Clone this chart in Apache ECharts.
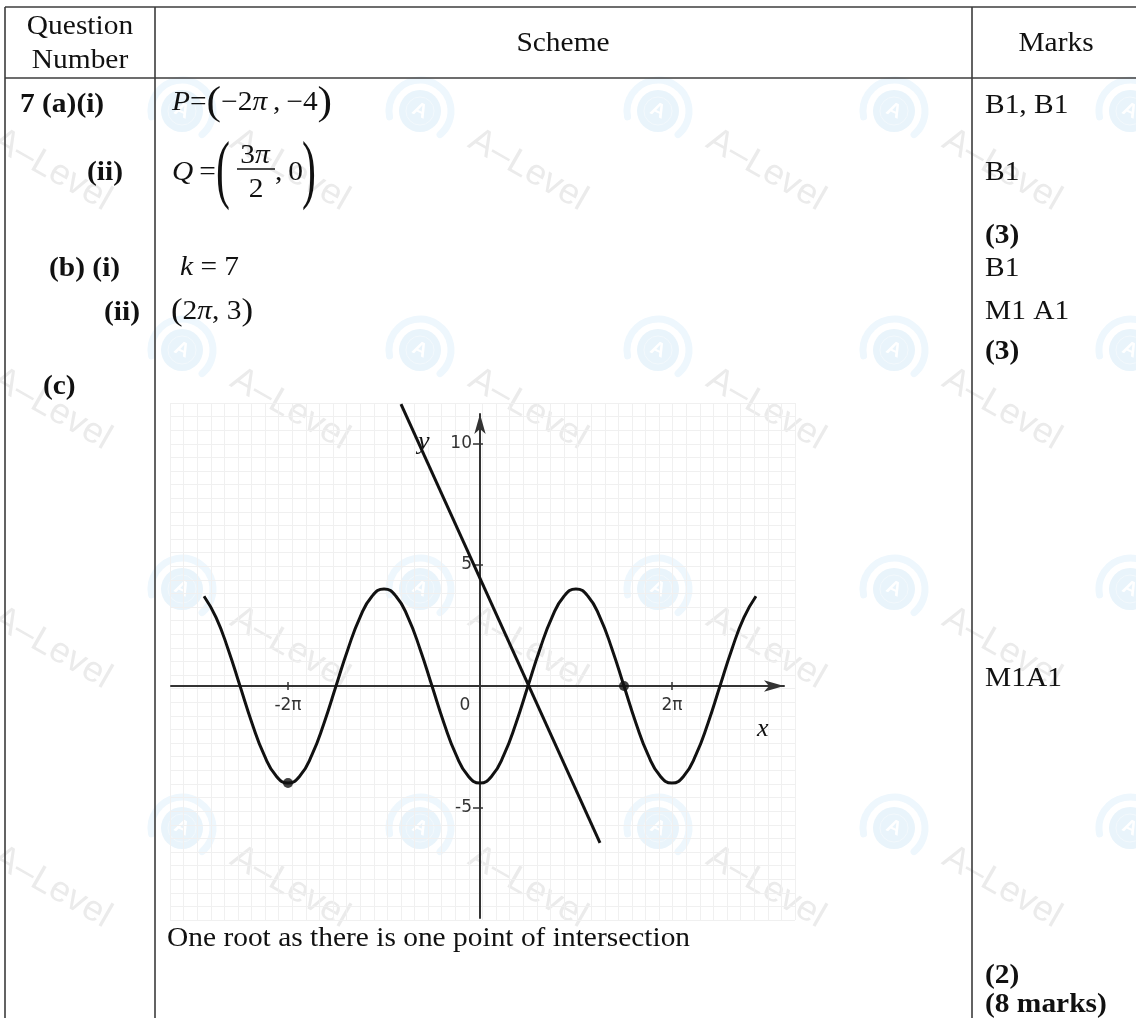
<!DOCTYPE html>
<html>
<head>
<meta charset="utf-8">
<title>Question 7 – mark scheme</title>
<script src="https://cdn.jsdelivr.net/npm/echarts@6/dist/echarts.min.js"></script>
<style>
  html, body { margin: 0; padding: 0; background: #ffffff; }
  #chart { width: 1136px; height: 1018px; }
</style>
</head>
<body>
<div id="chart"></div>
<script>
// ---- Graph data (x measured in multiples of π) ----
// y = -4cos x, read every π/8 from -2.875π to 2.875π
const curveX = [-2.875, -2.75, -2.625, -2.5, -2.375, -2.25, -2.125, -2,
  -1.875, -1.75, -1.625, -1.5, -1.375, -1.25, -1.125, -1,
  -0.875, -0.75, -0.625, -0.5, -0.375, -0.25, -0.125, 0,
  0.125, 0.25, 0.375, 0.5, 0.625, 0.75, 0.875, 1,
  1.125, 1.25, 1.375, 1.5, 1.625, 1.75, 1.875, 2,
  2.125, 2.25, 2.375, 2.5, 2.625, 2.75, 2.875];
const curveY = [3.70, 2.83, 1.53, 0, -1.53, -2.83, -3.70, -4,
  -3.70, -2.83, -1.53, 0, 1.53, 2.83, 3.70, 4,
  3.70, 2.83, 1.53, 0, -1.53, -2.83, -3.70, -4,
  -3.70, -2.83, -1.53, 0, 1.53, 2.83, 3.70, 4,
  3.70, 2.83, 1.53, 0, -1.53, -2.83, -3.70, -4,
  -3.70, -2.83, -1.53, 0, 1.53, 2.83, 3.70];

// straight line drawn across the curve (end points)
const lineX = [-0.823, 1.25];
const lineY = [11.62, -6.46];

// marked points: P = (-2π, -4), Q = (3π/2, 0)
const pointX = [-2, 1.5];
const pointY = [-4, 0];

// axis ticks and labels
const xTickValues = [-2, 2];
const xLabelValues = [-2, 0, 2];
const yTickValues = [-5, 5, 10];

// axis extents
const X_MIN = -3.219, X_MAX = 3.167;
const Y_MIN = -9.56, Y_MAX = 11.21;

// plotting box of the graph
const GRID = { left: 171, top: 414, width: 613, height: 504 };
// shift each axis from the box edge onto the other axis' zero
const X_AXIS_OFFSET = -(0 - Y_MIN) / (Y_MAX - Y_MIN) * GRID.height;
const Y_AXIS_OFFSET = -(0 - X_MIN) / (X_MAX - X_MIN) * GRID.width;

// ---- Fonts & helpers ----
const serif = '"Liberation Serif", "Times New Roman", serif';
const sans = '"Liberation Sans", Arial, sans-serif';
const tickFont = '"DejaVu Sans", Verdana, sans-serif';
const FS = 27;
const SX = 1.09;

const richMath = {
  i: { fontFamily: serif, fontSize: FS, fontStyle: 'italic', color: '#111' },
  n: { fontFamily: serif, fontSize: FS, color: '#111' },
  p: { fontFamily: serif, fontSize: 40, color: '#111' },
  q: { fontFamily: serif, fontSize: 32, color: '#111' }
};

function txt(x, y, text, o) {
  o = o || {};
  return {
    type: 'text', x: x, y: y, scaleX: o.sx || SX, z: 20,
    style: {
      text: text,
      fill: o.fill || '#111',
      fontFamily: o.family || serif,
      fontSize: o.size || FS,
      fontWeight: o.weight || 'normal',
      fontStyle: o.fstyle || 'normal',
      textAlign: o.align || 'left', align: o.align || 'left',
      textVerticalAlign: 'middle', verticalAlign: 'middle',
      rich: o.rich
    }
  };
}
function hline(x1, x2, y, w, c) {
  return { type: 'line', z: 19, shape: { x1: x1, y1: y, x2: x2, y2: y },
    style: { stroke: c || '#3c3c3c', lineWidth: w || 1.6 } };
}
function vline(x, y1, y2, w, c) {
  return { type: 'line', z: 19, shape: { x1: x, y1: y1, x2: x, y2: y2 },
    style: { stroke: c || '#3c3c3c', lineWidth: w || 1.6 } };
}

// ---- Background "A-Level" logos ----
const wmCols = [-56, 182, 420, 658, 894, 1130];
const wmRows = [111, 350, 589, 828];
const watermarks = [];
wmRows.forEach(function (cy) {
  wmCols.forEach(function (cx) {
    watermarks.push({
      type: 'group', x: cx, y: cy,
      children: [
        { type: 'arc', z: -2, shape: { cx: 0, cy: 0, r: 31, startAngle: 2.95, endAngle: 7.15, clockwise: true },
          style: { stroke: '#eef7fd', lineWidth: 7, fill: null, lineCap: 'round' } },
        { type: 'circle', z: -2, shape: { cx: 0, cy: 0, r: 21 }, style: { fill: '#e9f4fb' } },
        { type: 'circle', z: -2, shape: { cx: 0, cy: 0, r: 14 }, style: { fill: null, stroke: '#f3f9fd', lineWidth: 1 } },
        { type: 'text', z: -1, x: 0, y: 0, rotation: -0.45,
          style: { text: 'A', fill: '#ffffff', fontFamily: sans, fontSize: 20, fontWeight: 'bold',
            textAlign: 'center', align: 'center', textVerticalAlign: 'middle', verticalAlign: 'middle' } },
        { type: 'text', z: -1, x: 108, y: 59, rotation: -0.52,
          style: { text: 'A\u2013Level', fill: '#ebebeb', fontFamily: sans, fontSize: 36,
            textAlign: 'center', align: 'center', textVerticalAlign: 'middle', verticalAlign: 'middle' } }
      ]
    });
  });
});

// ---- Table frame ----
const frame = [
  hline(5, 1136, 7),
  hline(5, 1136, 78),
  vline(5, 7, 1018),
  vline(155, 7, 1018),
  vline(972, 7, 1018)
];

// ---- Table text ----
const B = { weight: 'bold' };
const texts = [
  txt(80, 27, 'Question', { align: 'center' }),
  txt(80, 61, 'Number', { align: 'center' }),
  txt(563, 44, 'Scheme', { align: 'center' }),
  txt(1056, 44, 'Marks', { align: 'center' }),

  txt(20, 105, '7 (a)(i)', B),
  txt(123, 173, '(ii)', { weight: 'bold', align: 'right' }),
  txt(49, 269, '(b) (i)', B),
  txt(140, 313, '(ii)', { weight: 'bold', align: 'right' }),
  txt(43, 387, '(c)', B),

  // P = (−2π, −4)
  txt(172, 103, '{i|P}{n|=}{p|(}{n|\u22122}{i|\u03c0}{n|\u2009,\u2009\u22124}{p|)}', { rich: richMath }),
  // Q = (3π/2, 0)
  txt(172, 173, '{i|Q}{n|\u2009=}', { rich: richMath }),
  txt(216, 174, '(', { size: 76, sx: 0.55 }),
  txt(255, 156, '{n|3}{i|\u03c0}', { rich: richMath, align: 'center' }),
  hline(237, 275, 169, 1.5, '#111'),
  txt(256, 190, '2', { align: 'center' }),
  txt(275, 173, ',\u20090'),
  txt(302, 174, ')', { size: 76, sx: 0.55 }),
  // k = 7
  txt(180, 268, '{i|k}{n| = 7}', { rich: richMath }),
  // (2π, 3)
  txt(171, 312, '{q|(}{n|2}{i|\u03c0}{n|, 3}{q|)}', { rich: richMath }),

  txt(167, 939, 'One root as there is one point of intersection'),

  // marks column
  txt(985, 106, 'B1, B1'),
  txt(985, 173, 'B1'),
  txt(985, 236, '(3)', B),
  txt(985, 269, 'B1'),
  txt(985, 312, 'M1 A1'),
  txt(985, 352, '(3)', B),
  txt(985, 679, 'M1A1'),
  txt(985, 976, '(2)', B),
  txt(985, 1005, '(8 marks)', B),

  // axis letters
  txt(418, 442, 'y', { fstyle: 'italic', size: 26, sx: 1 }),
  txt(757, 729, 'x', { fstyle: 'italic', size: 26, sx: 1 })
];

// ---- Chart ----
const chart = echarts.init(document.getElementById('chart'), null, { renderer: 'canvas' });

const axisColor = '#333333';
const hidden = { show: false };

const option = {
  animation: false,
  backgroundColor: '#ffffff',
  grid: [
    GRID,
    { left: 170, top: 403, width: 625, height: 517 }
  ],
  xAxis: [
    {
      type: 'value', gridIndex: 0, position: 'bottom', offset: X_AXIS_OFFSET,
      min: X_MIN, max: X_MAX,
      axisLine: { onZero: false, lineStyle: { color: axisColor, width: 2 },
        symbol: ['none', 'arrow'], symbolSize: [8.5, 20] },
      axisTick: { show: true, customValues: xTickValues, length: 4,
        lineStyle: { color: axisColor, width: 1.5 } },
      axisLabel: {
        customValues: xLabelValues, margin: 11,
        color: axisColor, fontFamily: tickFont, fontSize: 17,
        formatter: function (v) {
          if (v === 0) return '{z|0}';
          return (v < 0 ? '-' : '') + Math.abs(v) + '\u03c0';
        },
        rich: { z: { padding: [0, 30, 0, 0], color: axisColor, fontFamily: tickFont, fontSize: 17 } }
      },
      splitLine: hidden
    },
    {
      type: 'value', gridIndex: 0, position: 'bottom', offset: X_AXIS_OFFSET,
      min: X_MIN, max: X_MAX,
      axisLine: { show: false, onZero: false },
      axisTick: { show: true, inside: true, customValues: xTickValues, length: 4,
        lineStyle: { color: axisColor, width: 1.5 } },
      axisLabel: hidden, splitLine: hidden
    },
    {
      type: 'value', gridIndex: 1, min: 0, max: 46, interval: 1,
      axisLine: hidden, axisTick: hidden, axisLabel: hidden,
      splitLine: { show: true, lineStyle: { color: '#f0f0f0', width: 1 } }
    }
  ],
  yAxis: [
    {
      type: 'value', gridIndex: 0, position: 'left', offset: Y_AXIS_OFFSET,
      min: Y_MIN, max: Y_MAX,
      axisLine: { onZero: false, lineStyle: { color: axisColor, width: 2 },
        symbol: ['none', 'arrow'], symbolSize: [8.5, 20] },
      axisTick: { show: true, customValues: yTickValues, length: 7,
        lineStyle: { color: axisColor, width: 1.5 } },
      axisLabel: { customValues: yTickValues, margin: 8, color: axisColor,
        fontFamily: tickFont, fontSize: 17 },
      splitLine: hidden
    },
    {
      type: 'value', gridIndex: 0, position: 'left', offset: Y_AXIS_OFFSET,
      min: Y_MIN, max: Y_MAX,
      axisLine: { show: false, onZero: false },
      axisTick: { show: true, inside: true, customValues: yTickValues, length: 3,
        lineStyle: { color: axisColor, width: 1.5 } },
      axisLabel: hidden, splitLine: hidden
    },
    {
      type: 'value', gridIndex: 1, min: 0, max: 38, interval: 1,
      axisLine: hidden, axisTick: hidden, axisLabel: hidden,
      splitLine: { show: true, lineStyle: { color: '#f0f0f0', width: 1 } }
    }
  ],
  series: [
    {
      name: 'y = -4cos x', type: 'line', xAxisIndex: 0, yAxisIndex: 0,
      data: curveX.map(function (x, i) { return [x, curveY[i]]; }),
      smooth: 0.5, showSymbol: false, symbol: 'none', z: 5,
      lineStyle: { color: '#111111', width: 3 }
    },
    {
      name: 'line', type: 'line', xAxisIndex: 0, yAxisIndex: 0,
      data: lineX.map(function (x, i) { return [x, lineY[i]]; }),
      showSymbol: false, symbol: 'none', clip: false, z: 6,
      lineStyle: { color: '#111111', width: 3 }
    },
    {
      name: 'points', type: 'scatter', xAxisIndex: 0, yAxisIndex: 0,
      data: pointX.map(function (x, i) { return [x, pointY[i]]; }),
      symbolSize: 10, z: 7, itemStyle: { color: '#111111' }
    }
  ],
  graphic: { elements: watermarks.concat(frame, texts) }
};

chart.setOption(option);
</script>
</body>
</html>
